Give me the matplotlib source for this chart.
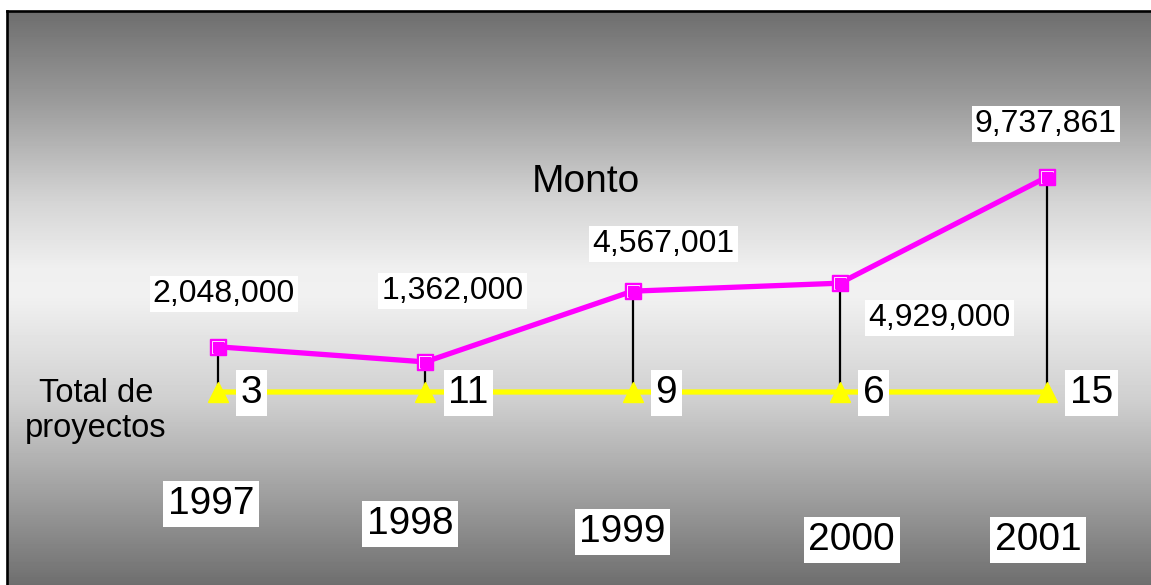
import numpy as np
import matplotlib
matplotlib.use("Agg")
import matplotlib.pyplot as plt
from matplotlib.lines import Line2D
from matplotlib.transforms import Affine2D

plt.rcParams['font.family'] = ['Liberation Sans', 'DejaVu Sans']

# datos
anios = ['1997', '1998', '1999', '2000', '2001']
monto = [2048000, 1362000, 4567001, 4929000, 9737861]
proyectos = [3, 11, 9, 6, 15]

# desplazamientos de etiquetas (pixeles)
off_monto = [(6, 53), (27, 71), (31, 47), (100, -35), (-1, 53)]
off_anio = [(-7, -112), (-15, -132), (-10, -140), (12, -148), (-9, -148)]

W, H = 1151, 585
fig = plt.figure(figsize=(W / 100, H / 100), dpi=100, facecolor='white')

# fondo degradado (se sale un poco por la derecha y abajo)
extra = 10
bg = fig.add_axes([8 / W, -extra / H, (W - 8 + extra) / W, (H - 11 + extra) / H])
rows = np.arange(11, H + extra)
gris = np.interp(rows, [11, 100, 200, 267, 295, 400, 500, 585],
                 [110, 154, 212, 239, 241, 207, 156, 110]) / 255.0
img = np.repeat(gris[:, None], 20, axis=1)
bg.imshow(img, cmap='gray', vmin=0, vmax=1, aspect='auto', interpolation='nearest')
bg.axis('off')

# borde
fig.add_artist(Line2D([7.5 / W, 1.01], [1 - 10.5 / H] * 2, transform=fig.transFigure, color='black', lw=1.9))
fig.add_artist(Line2D([7.5 / W] * 2, [-0.01, 1 - 10.5 / H], transform=fig.transFigure, color='black', lw=1.9))

ax = fig.add_axes([0, 0, 1, 1])
ax.patch.set_visible(False)
x = np.arange(len(anios))
step = 207.25
ax.set_xlim(-218 / step, (W - 218) / step)
s = (392 - 177) / 9737861
ax.set_ylim(-(H - 392) / s, 392 / s)
ax.axis('off')

ax.vlines(x, proyectos, monto, color='black', lw=1.6, zorder=2)
ax.plot(x, proyectos, color='#ffff00', lw=3.8, marker='^', ms=14, mfc='#ffff00', mec='#ffff00', zorder=3)
ax.plot(x, monto, color='#ff00ff', lw=3.8, marker='s', ms=12, mfc='#ff00ff', mec='#ff00ff', zorder=4)
# brillo blanco en los marcadores
ax.plot(x, monto, ls='none', marker='s', ms=9, mfc='none', mec='white', mew=0.6, zorder=4.5)
ax.plot(x, monto, ls='none', marker='s', ms=8.2, mfc='#ff00ff', mec='none', zorder=4.6,
        transform=ax.transData + Affine2D().translate(1.2, -1.2))

for i in range(len(anios)):
    ax.annotate(f'{monto[i]:,}', (x[i], monto[i]), xytext=off_monto[i], textcoords='offset pixels',
                ha='center', va='center', fontsize=23,
                bbox=dict(boxstyle='square,pad=0.1', fc='white', ec='none'))
    ax.annotate(str(proyectos[i]), (x[i], proyectos[i]), xytext=(23, -1), textcoords='offset pixels',
                ha='left', va='center', fontsize=28,
                bbox=dict(boxstyle='square,pad=0.12', fc='white', ec='none'), zorder=5)
    ax.annotate(anios[i], (x[i], 0), xytext=off_anio[i], textcoords='offset pixels',
                ha='center', va='center', fontsize=28,
                bbox=dict(boxstyle='square,pad=0.12', fc='white', ec='none'))

fig.text(586 / W, 1 - 182 / H, 'Monto', ha='center', va='center', fontsize=28)
fig.text(96 / W, 1 - 411 / H, 'Total de\nproyectos', ha='center', va='center', fontsize=23.5,
         multialignment='center', linespacing=1.15)

fig.savefig('out.png', dpi=100, facecolor='white')
